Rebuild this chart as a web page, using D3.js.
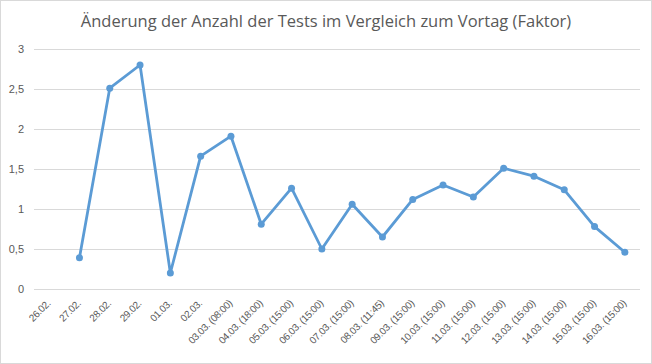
<!DOCTYPE html>
<html>
<head>
<meta charset="utf-8">
<script src="https://cdn.jsdelivr.net/npm/d3@7"></script>
<style>
  body { margin: 0; background: #fff; }
  svg { display: block; font-family: "Open Sans", "Liberation Sans", sans-serif; }
  .grid line { stroke: #d9d9d9; stroke-width: 1; }
  .axis text { fill: #595959; font-size: 11px; }
  .axis--x text { font-size: 10px; letter-spacing: -0.35px; }
</style>
</head>
<body>
<div id="chart"></div>
<script>
var title = "Änderung der Anzahl der Tests im Vergleich zum Vortag (Faktor)";

var categories = ["26.02.", "27.02.", "28.02.", "29.02.", "01.03.", "02.03.",
  "03.03. (08:00)", "04.03. (18:00)", "05.03. (15:00)", "06.03. (15:00)",
  "07.03. (15:00)", "08.03. (11:45)", "09.03. (15:00)", "10.03. (15:00)",
  "11.03. (15:00)", "12.03. (15:00)", "13.03. (15:00)", "14.03. (15:00)",
  "15.03. (15:00)", "16.03. (15:00)"];

var factor = [null, 0.39, 2.51, 2.8, 0.2, 1.66, 1.91, 0.81, 1.26, 0.5,
  1.06, 0.65, 1.12, 1.3, 1.15, 1.51, 1.41, 1.24, 0.78, 0.46];

var yTicks = [0, 0.5, 1, 1.5, 2, 2.5, 3];

var width = 652, height = 364;
var margin = {top: 49, right: 12, bottom: 75, left: 34};

var svg = d3.select("#chart").append("svg")
    .attr("width", width)
    .attr("height", height);

svg.append("rect")
    .attr("x", 0.5).attr("y", 0.5)
    .attr("width", width - 1).attr("height", height - 1)
    .attr("fill", "#fff")
    .attr("stroke", "#d9d9d9");

svg.append("text")
    .attr("x", width / 2)
    .attr("y", 27)
    .attr("text-anchor", "middle")
    .attr("fill", "#595959")
    .style("font-size", "16.5px")
    .text(title);

var x = d3.scaleBand()
    .domain(categories)
    .range([margin.left, width - margin.right]);

var y = d3.scaleLinear()
    .domain([0, 3])
    .range([height - margin.bottom, margin.top]);

var fmt = function(d) { return String(d).replace(".", ","); };

// gridlines
svg.append("g")
    .attr("class", "grid")
    .selectAll("line")
    .data(yTicks)
    .enter().append("line")
    .attr("x1", margin.left)
    .attr("x2", width - margin.right)
    .attr("y1", function(d) { return Math.round(y(d)) + 0.5; })
    .attr("y2", function(d) { return Math.round(y(d)) + 0.5; });

// y axis
svg.append("g")
    .attr("class", "axis axis--y")
    .attr("transform", "translate(" + (margin.left - 10) + ",0)")
    .call(d3.axisLeft(y).tickValues(yTicks).tickFormat(fmt).tickSize(0).tickPadding(0))
    .call(function(g) { g.select(".domain").remove(); })
    .selectAll("text")
    .attr("font-family", null)
    .attr("font-size", null);

// x axis
var xAxis = svg.append("g")
    .attr("class", "axis axis--x")
    .attr("transform", "translate(0," + (height - margin.bottom) + ")")
    .call(d3.axisBottom(x).tickSize(0).tickPadding(0))
    .call(function(g) { g.select(".domain").remove(); });

xAxis.selectAll("text")
    .attr("font-family", null)
    .attr("font-size", null)
    .attr("dy", null)
    .attr("y", null)
    .attr("text-anchor", "end")
    .attr("transform", "translate(2,15) rotate(-45)");

var line = d3.line()
    .defined(function(d) { return d != null; })
    .x(function(d, i) { return x(categories[i]) + x.bandwidth() / 2; })
    .y(function(d) { return y(d); });

svg.append("path")
    .datum(factor)
    .attr("fill", "none")
    .attr("stroke", "#5b9bd5")
    .attr("stroke-width", 2.8)
    .attr("stroke-linejoin", "round")
    .attr("d", line);

svg.append("g")
    .selectAll("circle")
    .data(factor.map(function(v, i) { return {c: categories[i], v: v}; })
      .filter(function(d) { return d.v != null; }))
    .enter().append("circle")
    .attr("cx", function(d) { return x(d.c) + x.bandwidth() / 2; })
    .attr("cy", function(d) { return y(d.v); })
    .attr("r", 3.5)
    .attr("fill", "#5b9bd5");
</script>
</body>
</html>
